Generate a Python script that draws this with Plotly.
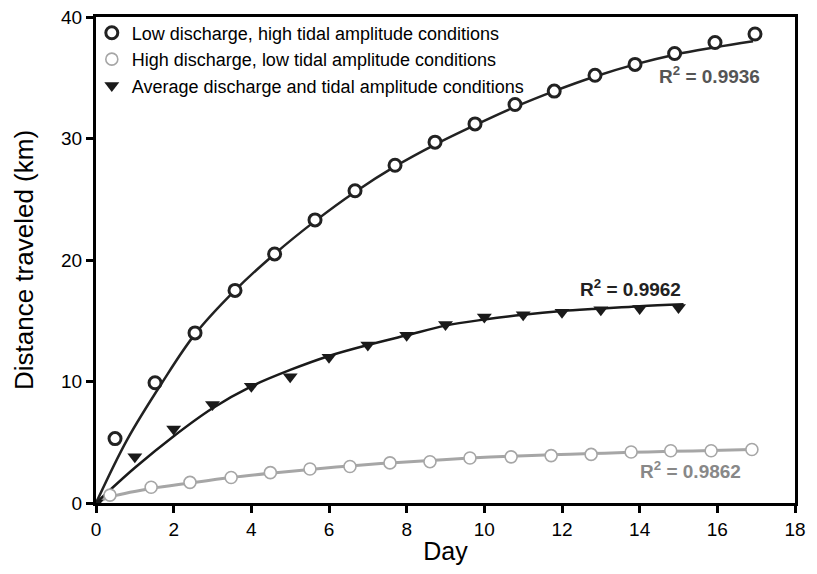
import plotly.graph_objects as go

# --- Data ---
low_x = [0.49, 1.52, 2.55, 3.58, 4.6, 5.64, 6.67, 7.7, 8.73, 9.76, 10.79, 11.8, 12.85, 13.88, 14.9, 15.94, 16.97]
low_y = [5.3, 9.9, 14.0, 17.5, 20.5, 23.3, 25.7, 27.8, 29.7, 31.2, 32.8, 33.9, 35.2, 36.1, 37.0, 37.9, 38.6]

high_x = [0.36, 1.42, 2.42, 3.48, 4.49, 5.51, 6.54, 7.57, 8.6, 9.63, 10.69, 11.72, 12.75, 13.78, 14.8, 15.84, 16.89]
high_y = [0.65, 1.3, 1.7, 2.1, 2.5, 2.8, 3.0, 3.3, 3.4, 3.7, 3.8, 3.9, 4.0, 4.2, 4.3, 4.3, 4.4]

avg_x = [0, 1, 2, 3, 4, 5, 6, 7, 8, 9, 10, 11, 12, 13, 14, 15]
avg_y = [0, 3.8, 6.1, 8.1, 9.6, 10.4, 12.0, 13.0, 13.8, 14.7, 15.3, 15.5, 15.7, 15.9, 16.0, 16.1]

# fitted curves
fit_low_x = [0, 0.8, 1.7, 2.55, 3.58, 4.6, 5.64, 6.67, 7.7, 8.73, 9.76, 10.79, 11.8, 12.85, 13.88, 14.9, 15.94, 16.92]
fit_low_y = [0, 5.2, 9.9, 13.9, 17.5, 20.5, 23.2, 25.6, 27.7, 29.5, 31.1, 32.6, 33.9, 35.1, 36.1, 36.9, 37.5, 38.0]

fit_high_x = [0, 0.36, 1.42, 2.42, 3.48, 4.49, 5.51, 6.54, 7.57, 8.6, 9.63, 10.69, 11.72, 12.75, 13.78, 14.8, 15.84, 16.87]
fit_high_y = [0, 0.5, 1.2, 1.65, 2.1, 2.45, 2.76, 3.05, 3.3, 3.5, 3.7, 3.85, 3.97, 4.07, 4.17, 4.25, 4.32, 4.4]

fit_avg_x = [0, 1, 2, 3, 4, 5, 6, 7, 8, 9, 10, 11, 12, 13, 14, 15.13]
fit_avg_y = [0, 2.9, 5.5, 7.8, 9.6, 10.95, 12.1, 13.0, 13.8, 14.6, 15.1, 15.5, 15.8, 16.0, 16.2, 16.35]

names = ["Low discharge, high tidal amplitude conditions",
         "High discharge, low tidal amplitude conditions",
         "Average discharge and tidal amplitude conditions"]
r2_labels = ["R<sup>2</sup> = 0.9936", "R<sup>2</sup> = 0.9862", "R<sup>2</sup> = 0.9962"]
r2_pos = [(17.15, 35.2), (16.66, 2.7), (15.12, 17.7)]
r2_colors = ["#555555", "#888888", "#222222"]

BLACK = "#1a1a1a"
GRAY = "#a6a6a6"
FONT = "Liberation Sans, Arial, Helvetica, sans-serif"

fig = go.Figure()

# fit curves
fig.add_trace(go.Scatter(x=fit_high_x, y=fit_high_y, mode="lines", line=dict(color=GRAY, width=3, shape="spline"),
                         showlegend=False, hoverinfo="skip"))
fig.add_trace(go.Scatter(x=fit_avg_x, y=fit_avg_y, mode="lines", line=dict(color=BLACK, width=2.5, shape="spline"),
                         showlegend=False, hoverinfo="skip"))
fig.add_trace(go.Scatter(x=fit_low_x, y=fit_low_y, mode="lines", line=dict(color="#222222", width=2.5, shape="spline"),
                         showlegend=False, hoverinfo="skip"))

# data points
fig.add_trace(go.Scatter(x=low_x, y=low_y, mode="markers", name=names[0], legendgroup="a",
                         marker=dict(symbol="circle", size=12, color="white", line=dict(color="#222222", width=3))))
fig.add_trace(go.Scatter(x=high_x, y=high_y, mode="markers", name=names[1], legendgroup="b",
                         marker=dict(symbol="circle", size=12, color="white", line=dict(color=GRAY, width=1.6))))
fig.add_trace(go.Scatter(x=avg_x, y=avg_y, mode="markers", name=names[2], legendgroup="c",
                         marker=dict(symbol="triangle-down", size=13, color=BLACK, line=dict(width=0))))

for lab, (ax_, ay_), col in zip(r2_labels, r2_pos, r2_colors):
    fig.add_annotation(x=ax_, y=ay_, text="<b>" + lab + "</b>", showarrow=False, xanchor="right", yanchor="middle",
                       font=dict(family=FONT, size=19, color=col))

axis_common = dict(showline=True, linecolor="black", linewidth=3, mirror=True, ticks="outside",
                   tickcolor="black", tickwidth=2.5, ticklen=7, showgrid=False, zeroline=False,
                   automargin=False, ticklabeloverflow="allow",
                   tickfont=dict(family=FONT, size=19, color="black"))

fig.update_xaxes(range=[0, 18], tick0=0, dtick=2,
                 title=dict(text="Day", font=dict(family=FONT, size=25, color="black"), standoff=4),
                 **axis_common)
fig.update_yaxes(range=[0, 40], tick0=0, dtick=10,
                 title=dict(text="Distance traveled (km)", font=dict(family=FONT, size=26, color="black"), standoff=20),
                 **axis_common)

# the page body adds an 8px offset, so the figure is 8px smaller and the margins shifted
fig.update_layout(
    width=809, height=566,
    margin=dict(l=88, r=22, t=7, b=71),
    plot_bgcolor="white", paper_bgcolor="white",
    font=dict(family=FONT, color="black"),
    legend=dict(x=-0.006, y=1.005, xanchor="left", yanchor="top", bgcolor="rgba(0,0,0,0)",
                font=dict(family=FONT, size=18, color="black"), tracegroupgap=0, itemwidth=30),
    showlegend=True,
)

fig.write_html("out.html")
